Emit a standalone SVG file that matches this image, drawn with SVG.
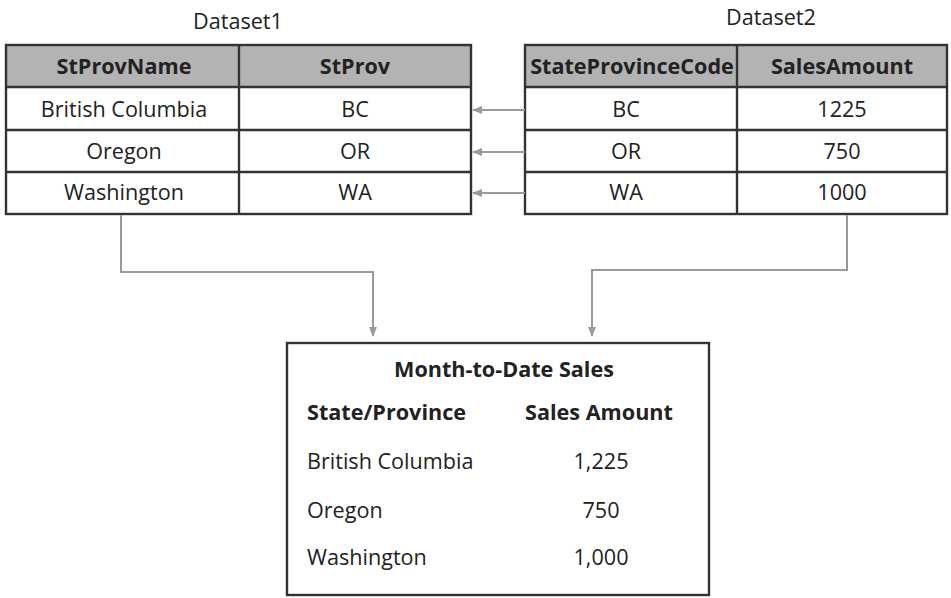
<svg xmlns="http://www.w3.org/2000/svg" width="951" height="598" viewBox="0 0 951 598">
<style>
text{font-family:"Open Sans","Noto Sans",sans-serif;fill:#222;font-size:21.6px}
.c{text-anchor:middle}
.b{font-weight:bold}
.hdr{fill:#b3b3b3}
.cell{fill:#fff;stroke:#333;stroke-width:2.4}
.ln{stroke:#333;stroke-width:2.4;fill:none}
.con{stroke:#9a9a9a;stroke-width:2;fill:none}
</style>
<defs>
<marker id="ah" viewBox="0 0 10 10" refX="9" refY="5" markerWidth="5" markerHeight="5" orient="auto-start-reverse" markerUnits="strokeWidth">
<path d="M0,1 L10,5 L0,9 Z" fill="#9a9a9a"/>
</marker>
</defs>
<rect width="951" height="598" fill="#fff"/>
<g id="dataset1">
<text class="c" x="238" y="29">Dataset1</text>
<rect x="6" y="45" width="465" height="42" class="hdr"/>
<rect x="6" y="45" width="465" height="169" class="ln"/>
<line x1="6" y1="87" x2="471" y2="87" class="ln"/>
<line x1="6" y1="130" x2="471" y2="130" class="ln"/>
<line x1="6" y1="172" x2="471" y2="172" class="ln"/>
<line x1="239" y1="45" x2="239" y2="214" class="ln"/>
<text class="c b" x="124" y="74">StProvName</text>
<text class="c b" x="355" y="74">StProv</text>
<text class="c" x="124" y="117">British Columbia</text>
<text class="c" x="355" y="117">BC</text>
<text class="c" x="124" y="159">Oregon</text>
<text class="c" x="355" y="159">OR</text>
<text class="c" x="124" y="200">Washington</text>
<text class="c" x="355" y="200">WA</text>
</g>
<g id="dataset2">
<text class="c" x="771" y="25">Dataset2</text>
<rect x="525" y="45" width="422" height="42" class="hdr"/>
<rect x="525" y="45" width="422" height="169" class="ln"/>
<line x1="525" y1="87" x2="947" y2="87" class="ln"/>
<line x1="525" y1="130" x2="947" y2="130" class="ln"/>
<line x1="525" y1="172" x2="947" y2="172" class="ln"/>
<line x1="737" y1="45" x2="737" y2="214" class="ln"/>
<text class="c b" x="632" y="74">StateProvinceCode</text>
<text class="c b" x="842" y="74">SalesAmount</text>
<text class="c" x="626" y="117">BC</text>
<text class="c" x="842" y="117">1225</text>
<text class="c" x="626" y="159">OR</text>
<text class="c" x="842" y="159">750</text>
<text class="c" x="626" y="200">WA</text>
<text class="c" x="842" y="200">1000</text>
</g>
<g id="report">
<rect x="287" y="343" width="422" height="252" class="cell"/>
<text class="c b" x="504" y="377">Month-to-Date Sales</text>
<text class="b" x="307" y="420">State/Province</text>
<text class="c b" x="599" y="420">Sales Amount</text>
<text x="307" y="469">British Columbia</text>
<text class="c" x="601" y="469">1,225</text>
<text x="307" y="518">Oregon</text>
<text class="c" x="601" y="518">750</text>
<text x="307" y="565">Washington</text>
<text class="c" x="601" y="565">1,000</text>
</g>
<g id="connectors">
<line x1="525" y1="110" x2="473" y2="110" class="con" marker-end="url(#ah)"/>
<line x1="525" y1="152" x2="473" y2="152" class="con" marker-end="url(#ah)"/>
<line x1="525" y1="193" x2="473" y2="193" class="con" marker-end="url(#ah)"/>
<polyline points="121,215 121,272 373,272 373,336" class="con" marker-end="url(#ah)"/>
<polyline points="847,215 847,270 592,270 592,336" class="con" marker-end="url(#ah)"/>
</g>
</svg>
